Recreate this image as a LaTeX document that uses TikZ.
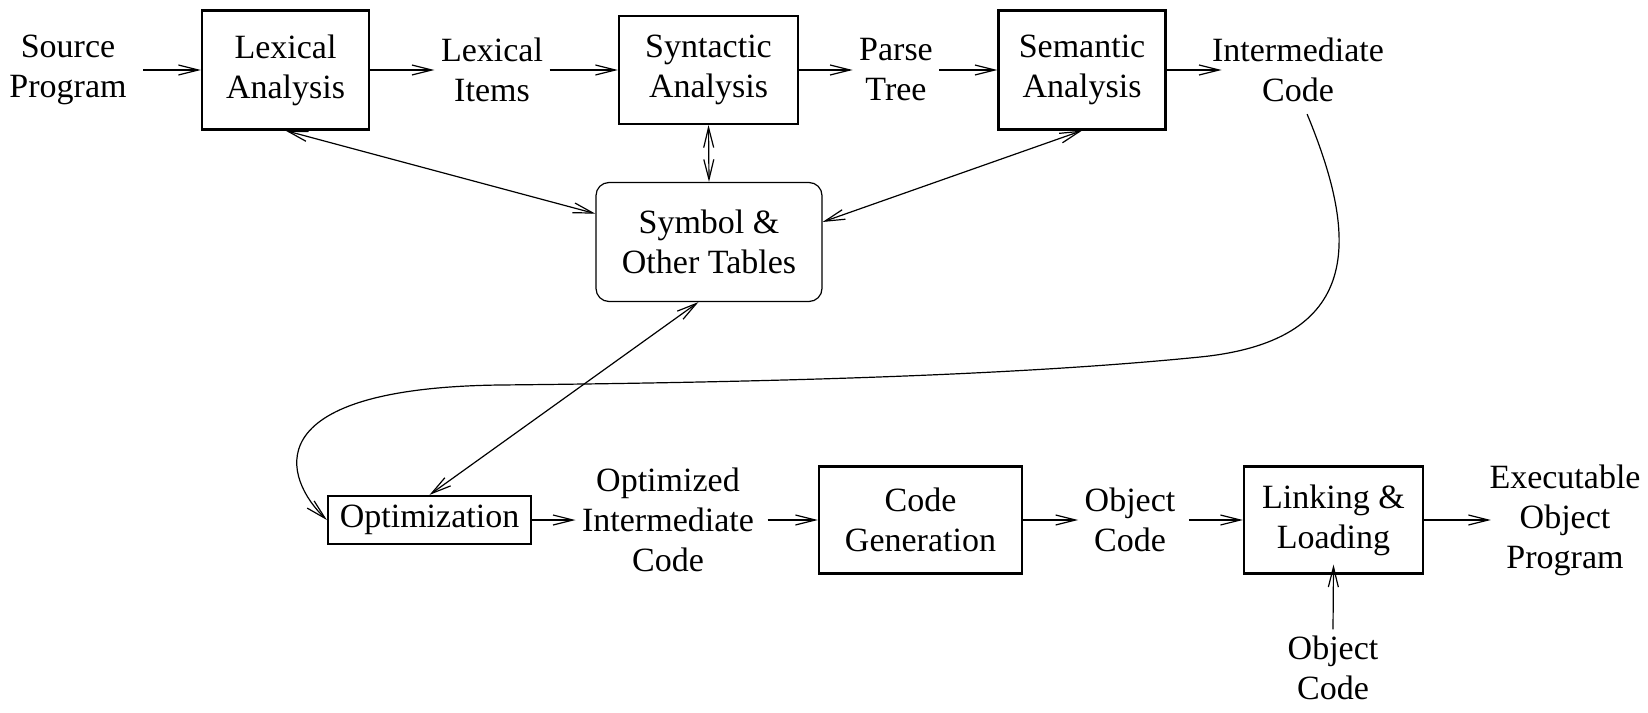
\documentclass[tikz,border=0pt]{standalone}
\usepackage{fontspec}
\setmainfont{Liberation Serif}
\usepackage{tikz}
\usetikzlibrary{arrows.meta}

\begin{document}
\begin{tikzpicture}[x=0.5pt, y=-0.5pt, line width=0.6pt,
  >={Straight Barb[length=10pt,width=5pt]},
  every node/.style={font=\fontsize{17}{20}\selectfont, align=center},
  lbl/.style={inner sep=3pt},
  box/.style={draw, line width=1.1pt, inner sep=0pt}]
\useasboundingbox (0,0) rectangle (1648,712);
\begin{scope}
\node[lbl] (src) at (68,70) {Source\\Program};
\node[box, minimum width=83.5pt, minimum height=59.5pt] (lex) at (285.5,70) {Lexical\\Analysis};
\node[lbl] (items) at (492,70) {Lexical\\Items};
\node[box, minimum width=89.5pt, minimum height=54pt] (syn) at (708.5,70) {Syntactic\\Analysis};
\node[lbl] (tree) at (896,70) {Parse\\Tree};
\node[box, minimum width=83.5pt, minimum height=59.5pt] (sem) at (1082,70) {Semantic\\Analysis};
\node[lbl] (ic) at (1298,70) {Intermediate\\Code};
\node[draw, rounded corners=6.5pt, minimum width=113pt, minimum height=59.5pt] (sym) at (709,242) {Symbol \&\\Other Tables};
\draw[->, shorten <=5pt] (src) -- (lex);
\draw[->] (lex) -- (items);
\draw[->] (items) -- (syn);
\draw[->] (syn) -- (tree);
\draw[->] (tree) -- (sem);
\draw[->, shorten >=-8pt] (sem) -- (ic);
\draw[<->] (lex.south) -- (sym.166);
\draw[<->] (syn.south) -- (sym.north);
\draw[<->] (sem.south) -- (sym.10);
\end{scope}
\begin{scope}
\node[box, minimum width=101.5pt, minimum height=24pt] (opt) at (429.5,520) {Optimization};
\node[lbl] (oic) at (668,520) {Optimized\\Intermediate\\Code};
\node[box, minimum width=101.5pt, minimum height=53.5pt] (gen) at (920.5,520) {Code\\Generation};
\node[lbl] (obj) at (1130,520) {Object\\Code};
\node[box, minimum width=89.5pt, minimum height=53.5pt] (link) at (1333.5,520) {Linking \&\\Loading};
\node[lbl] (exe) at (1565,520) {Executable\\Object\\Program};
\node[lbl] (lib) at (1333,668) {Object\\Code};
\draw[->] (opt) -- (oic);
\draw[->, shorten <=3.5pt] (oic) -- (gen);
\draw[->] (gen) -- (obj);
\draw[->, shorten <=3.5pt] (obj) -- (link);
\draw[->, shorten >=-4pt] (link) -- (exe);
\draw[->] (lib.north) -- ([yshift=5pt]link.south);
\draw[<->] (sym.-100) -- (opt.north);
\draw[->, shorten <=3pt] (ic.-80) .. controls (1355,230) and (1370,340) .. (1200,357)
  .. controls (1030,374) and (800,382) .. (500,385)
  .. controls (250,388) and (285,480) .. (opt.west);
\end{scope}
\end{tikzpicture}
\end{document}
